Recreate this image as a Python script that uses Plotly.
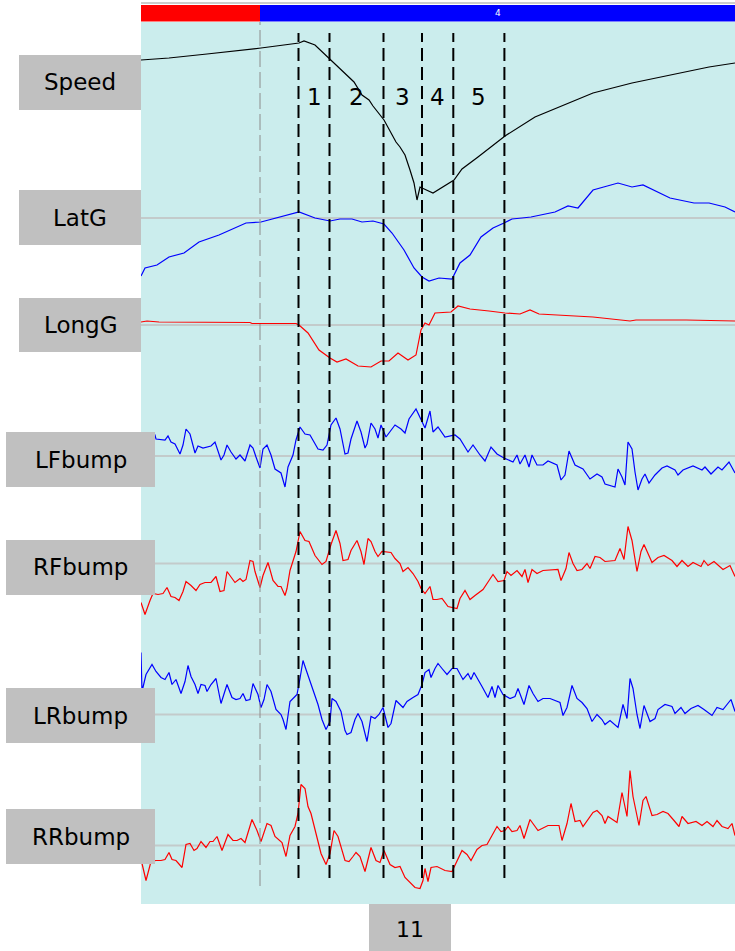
import plotly.graph_objects as go

# ---------------- data (distance along lap in m, channel value relative to its reference line) ----------------
speed_d = [0, 28, 66, 120, 158, 163, 174, 189, 213, 221, 228, 232, 243, 255, 259, 264, 267, 269, 273, 275, 276,
           279, 281, 292, 313, 321, 337, 364, 394, 452, 491, 530, 568, 594]
speed_v = [140, 142, 146, 152, 157, 159, 155, 141, 118, 105, 100, 94, 80, 58, 53, 45, 37, 30, 17, 3, 0,
           13, 12, 7, 20, 31, 43, 64, 83, 107, 117, 125, 133, 137]

latg_d = [0, 4, 16, 28, 43, 58, 78, 105, 120, 136, 158, 174, 189, 199, 211, 221, 232, 243, 251, 263, 273, 281,
          288, 298, 311, 319, 329, 340, 352, 363, 371, 381, 390, 414, 427, 437, 452, 477, 491, 502, 529, 553,
          568, 584, 594]
latg_v = [-58, -50, -47, -39, -35, -24, -17, -5, -4, 0, 6, 0, -3, -1, -1, -4, -3, -6, -15, -32, -50, -59,
          -63, -60, -61, -45, -37, -19, -10, -5, -1, 0, 1, 6, 12, 10, 28, 35, 31, 33, 20, 15,
          15, 11, 6]

longg_d = [0, 6, 18, 109, 111, 155, 158, 167, 178, 189, 196, 205, 217, 230, 240, 248, 257, 267, 275, 280, 284,
           288, 294, 310, 317, 329, 348, 364, 379, 389, 398, 452, 489, 495, 545, 594]
longg_v = [3, 4, 3, 2.5, 1.5, 1.5, 0, -8, -25, -33, -37, -34, -41, -42, -36, -36, -28, -35, -30, -5, 2,
           0, 12, 13, 19, 16, 14, 12, 11, 15, 11, 8, 4, 5, 5, 4]

lf_d = [0, 8, 14, 15, 24, 27, 30, 34, 39, 42, 45, 49, 54, 57, 62, 65, 70, 74, 80, 83, 86, 90, 95, 99, 104,
        109, 112, 115, 119, 122, 126, 130, 134, 140, 144, 147, 152, 155, 159, 164, 169, 177, 182, 186, 190,
        195, 199, 204, 207, 210, 216, 220, 224, 226, 230, 234, 237, 240, 245, 254, 260, 264, 268, 275, 280,
        284, 289, 292, 297, 304, 314, 319, 327, 332, 339, 344, 350, 356, 363, 372, 376, 379, 384, 388, 391,
        396, 402, 407, 416, 420, 424, 428, 434, 442, 449, 456, 461, 464, 474, 477, 481, 484, 487, 491, 494,
        497, 501, 504, 508, 514, 521, 526, 534, 537, 542, 552, 561, 564, 570, 577, 581, 588, 594]
lf_v = [22, 18, 21, 17, 16, 20, 14, 12, 2, 11, 27, 22, 3, 10, 8, 9, 10, 14, -4, 1, 11, 4, -3, 1, -5,
        11, 8, -1, -12, 7, 11, 1, -13, -17, -31, -11, 1, 16, 29, 22, 21, 7, 6, 11, 31,
        38, 27, 2, 3, 17, 35, 24, 8, 12, 33, 27, 18, 31, 19, 31, 27, 23, 37, 47, 36,
        28, 45, 24, 29, 19, 21, 17, 4, 11, 1, -5, 9, 2, -2, -6, 1, -8, 1, -11, 1,
        -9, -9, -5, -9, -24, -19, 5, -9, -13, -23, -18, -21, -28, -31, -13, -21, -29, 14, 7, -16,
        -34, -23, -18, -27, -19, -12, -10, -14, -19, -14, -10, -14, -11, -18, -11, -14, -6, -17]

rf_d = [0, 4, 9, 12, 17, 22, 26, 30, 34, 38, 42, 45, 50, 55, 59, 64, 70, 75, 79, 83, 86, 94, 99, 102, 105,
        109, 112, 114, 119, 122, 127, 132, 137, 140, 144, 146, 149, 152, 155, 159, 164, 168, 174, 181, 185,
        190, 195, 199, 202, 207, 210, 216, 220, 223, 227, 230, 234, 237, 241, 250, 254, 259, 262, 267, 272,
        277, 280, 284, 289, 292, 296, 301, 307, 316, 319, 324, 329, 334, 342, 348, 352, 357, 363, 366, 370,
        376, 381, 384, 387, 391, 396, 402, 417, 420, 425, 428, 432, 436, 441, 446, 449, 454, 459, 464, 474,
        479, 483, 487, 491, 496, 500, 503, 511, 517, 523, 531, 536, 541, 547, 552, 560, 563, 567, 573, 582,
        589, 594]
rf_v = [-39, -51, -37, -30, -31, -30, -24, -33, -34, -37, -28, -18, -22, -27, -21, -19, -19, -13, -28, -27,
        -8, -19, -15, -18, -16, 3, 2, -8, -24, -12, 1, -17, -23, -23, -32, -25, -7, 3, 12, 32, 23, 22, 8, -1,
        2, 19, 33, 20, 3, 4, 13, 23, 12, -1, 25, 22, 12, 7, 12, 11, 5, 0, -8, -4, -10, -18, -25, -30, -23,
        -36, -36, -35, -43, -45, -35, -27, -36, -32, -26, -17, -11, -18, -17, -8, -12, -7, -13, -6, -19, -6,
        -10, -7, -6, -17, -5, 11, 0, -7, -6, 0, -5, 7, 6, 2, 3, 15, 4, 37, 23, -8, 12, 19, 1, 6, 8, 3, -3, 3,
        -3, 1, -3, 3, -2, 2, -6, -2, -13]

lr_d = [0, 1, 5, 11, 15, 20, 24, 28, 31, 35, 40, 44, 47, 50, 54, 57, 60, 64, 66, 70, 75, 80, 86, 91, 95, 99,
        102, 105, 109, 112, 117, 120, 123, 126, 130, 135, 140, 142, 145, 149, 154, 156, 159, 162, 165, 170,
        177, 181, 185, 189, 191, 195, 200, 204, 206, 210, 214, 217, 221, 226, 230, 234, 238, 242, 247, 250,
        255, 262, 266, 272, 277, 281, 284, 288, 290, 294, 297, 301, 306, 311, 316, 322, 327, 330, 333, 341,
        347, 351, 354, 357, 362, 369, 374, 377, 383, 388, 392, 397, 402, 409, 419, 422, 426, 431, 436, 441,
        446, 451, 456, 461, 464, 469, 477, 479, 482, 486, 489, 492, 496, 499, 503, 509, 514, 517, 524, 531,
        534, 540, 544, 550, 557, 563, 571, 576, 582, 590, 594]
lr_v = [62, 23, 40, 50, 43, 37, 35, 42, 30, 35, 21, 33, 49, 38, 30, 21, 30, 29, 23, 30, 36, 11, 30, 17, 15,
        16, 21, 14, 15, 31, 20, 7, 15, 30, 23, 5, 0, -5, -15, 13, 18, 20, 36, 54, 45, 31, 10, -5, -15, -7, 16,
        13, 3, -16, -20, -18, -5, 1, -7, -27, -2, -4, 0, 7, -13, -9, 14, 7, 13, 17, 20, 30, 42, 45, 37, 46,
        51, 46, 40, 46, 46, 35, 41, 35, 42, 28, 17, 28, 17, 29, 20, 16, 18, 26, 10, 29, 21, 13, 16, 16, 12, -1,
        7, 29, 16, 12, 6, -7, 0, -5, -10, -6, -13, -4, 10, -4, 36, 26, 0, -14, 9, -7, -4, 5, 10, 8, 1, 7, 1,
        6, 9, 5, -1, 7, 5, 15, 3]

rr_d = [1, 5, 10, 15, 20, 24, 28, 31, 35, 41, 45, 49, 53, 56, 60, 65, 69, 72, 76, 81, 87, 92, 96, 100, 104,
        111, 116, 120, 126, 130, 134, 138, 141, 145, 149, 154, 157, 160, 164, 167, 170, 175, 180, 185, 189,
        193, 197, 204, 208, 212, 215, 219, 224, 230, 235, 239, 243, 249, 254, 259, 264, 274, 279, 282, 284,
        287, 290, 296, 304, 311, 316, 321, 326, 330, 336, 341, 346, 351, 356, 360, 364, 367, 371, 376, 379,
        383, 389, 397, 407, 418, 421, 426, 430, 434, 439, 442, 447, 452, 456, 461, 464, 467, 476, 481, 486,
        489, 492, 496, 498, 502, 505, 511, 516, 522, 527, 533, 538, 541, 547, 555, 561, 566, 572, 576, 581,
        587, 591, 594]
rr_v = [-18, -35, -16, -15, -15, -14, -7, -14, -15, -22, 1, 2, -5, -3, 4, -2, 4, 4, 9, -5, 11, 5, 5, 7, 3,
        26, 15, 4, 22, 20, 9, 6, 3, -11, 10, 19, 32, 61, 57, 39, 32, 12, -8, -19, -8, 15, 9, -15, -16, -11,
        -7, -11, -26, -2, -15, -17, -5, -19, -22, -21, -32, -42, -43, -35, -23, -36, -22, -21, -25, -26, -15,
        -5, -9, -15, -4, 0, 1, 10, 19, 14, 15, 19, 14, 15, 20, 7, 26, 15, 20, 20, 5, 22, 42, 24, 25, 19, 26,
        33, 35, 30, 22, 29, 23, 53, 29, 75, 49, 30, 20, 45, 49, 30, 31, 34, 32, 25, 19, 29, 22, 24, 20, 24,
        19, 25, 19, 17, 22, 10]

channel_names = ["Speed", "LatG", "LongG", "LFbump", "RFbump", "LRbump", "RRbump"]
channel_x = [speed_d, latg_d, longg_d, lf_d, rf_d, lr_d, rr_d]
channel_y = [speed_v, latg_v, longg_v, lf_v, rf_v, lr_v, rr_v]

sector_marks = [157.5, 188.5, 242.5, 281, 312.3, 363.4]   # distance of dashed markers
sector_labels = ["1", "2", "3", "4", "5"]
split_mark = 119                                         # thin grey split line
segment_bounds = [0, 119, 594]
segment_names = ["", "4"]
corner_label = "11"

# ---------------- styling / layout ----------------
W, H = 735, 951
L, R, T, B = 141, 735, 22, 904
PW, PH = R - L, B - T

def fx(p):
    return (p - L) / PW

def fy(p):
    return (B - p) / PH

colors = ["#000000", "#0000ff", "#ff0000", "#0000ff", "#ff0000", "#0000ff", "#ff0000"]
ref_px = [200, 218, 325, 456, 563.5, 714.5, 845.5]
show_ref = [False, True, True, True, True, True, True]
boxes = [(19, 141, 55, 110), (19, 141, 190, 245), (19, 141, 298, 352),
         (6, 155, 432, 487), (6, 155, 540, 595), (6, 155, 688, 743), (6, 155, 809, 864)]
FONT = "DejaVu Sans"

fig = go.Figure()
layout_axes = {}
shapes = []
annotations = []

for i, name in enumerate(channel_names):
    ax = "y" if i == 0 else f"y{i+1}"
    key = "yaxis" if i == 0 else f"yaxis{i+1}"
    b = ref_px[i]
    rng = [-(B - b), (b - T)]
    axdef = dict(range=rng, visible=False, showgrid=False, zeroline=False, fixedrange=True)
    if i > 0:
        axdef["overlaying"] = "y"
    layout_axes[key] = axdef
    fig.add_trace(go.Scatter(x=channel_x[i], y=channel_y[i], mode="lines", yaxis=ax,
                             line=dict(color=colors[i], width=1.2), hoverinfo="skip", showlegend=False))
    if show_ref[i]:
        shapes.append(dict(type="line", xref="paper", x0=0, x1=1, yref=ax, y0=0, y1=0,
                           line=dict(color="#c3cbcb", width=2), layer="below"))
    x0, x1, y0, y1 = boxes[i]
    shapes.append(dict(type="rect", xref="paper", yref="paper", x0=fx(x0), x1=fx(x1), y0=fy(y1), y1=fy(y0),
                       fillcolor="#c0c0c0", line=dict(width=0), layer="above"))
    annotations.append(dict(text=name, xref="paper", yref="paper", x=fx((x0 + x1) / 2), y=fy((y0 + y1) / 2),
                            xanchor="center", yanchor="middle", showarrow=False,
                            font=dict(family=FONT, size=23, color="black")))

# thin grey split line
shapes.append(dict(type="line", xref="x", yref="paper", x0=split_mark, x1=split_mark, y0=fy(886), y1=1,
                   line=dict(color="#8c8c8c", width=1, dash="16px,5px"), layer="above"))
# sector dashed markers
for m in sector_marks:
    shapes.append(dict(type="line", xref="x", yref="paper", x0=m, x1=m, y0=fy(878), y1=fy(33),
                       line=dict(color="black", width=2, dash="13px,6px"), layer="above"))
for k, lab in enumerate(sector_labels):
    mid = (sector_marks[k] + sector_marks[k + 1]) / 2
    annotations.append(dict(text=lab, xref="x", yref="paper", x=mid, y=fy(97), xanchor="center",
                            yanchor="middle", showarrow=False, font=dict(family=FONT, size=23, color="black")))

# top segment bar
seg_colors = ["#ff0000", "#0000ff"]
for k in range(len(segment_bounds) - 1):
    shapes.append(dict(type="rect", xref="x", yref="paper", x0=segment_bounds[k], x1=segment_bounds[k + 1],
                       y0=fy(21.5), y1=fy(5), fillcolor=seg_colors[k], line=dict(width=0)))
    if segment_names[k]:
        annotations.append(dict(text=segment_names[k], xref="x", yref="paper",
                                x=(segment_bounds[k] + segment_bounds[k + 1]) / 2, y=fy(13.5),
                                xanchor="center", yanchor="middle", showarrow=False,
                                font=dict(family=FONT, size=9, color="white")))
shapes.append(dict(type="line", xref="paper", yref="paper", x0=0, x1=1, y0=fy(3), y1=fy(3),
                   line=dict(color="#9a9a9a", width=1)))

# bottom corner label
shapes.append(dict(type="rect", xref="paper", yref="paper", x0=fx(369), x1=fx(451), y0=fy(951), y1=fy(904),
                   fillcolor="#c0c0c0", line=dict(width=0)))
annotations.append(dict(text=corner_label, xref="paper", yref="paper", x=fx(410), y=fy(929),
                        xanchor="center", yanchor="middle", showarrow=False,
                        font=dict(family=FONT, size=22, color="black")))

fig.update_layout(
    width=W, height=H,
    margin=dict(l=L, r=W - R, t=T, b=H - B, pad=0),
    paper_bgcolor="white", plot_bgcolor="#cbeded",
    xaxis=dict(range=[0, PW], visible=False, showgrid=False, zeroline=False, fixedrange=True),
    shapes=shapes, annotations=annotations, showlegend=False,
    **layout_axes,
)

fig.write_html("out.html", config={"displayModeBar": False})
